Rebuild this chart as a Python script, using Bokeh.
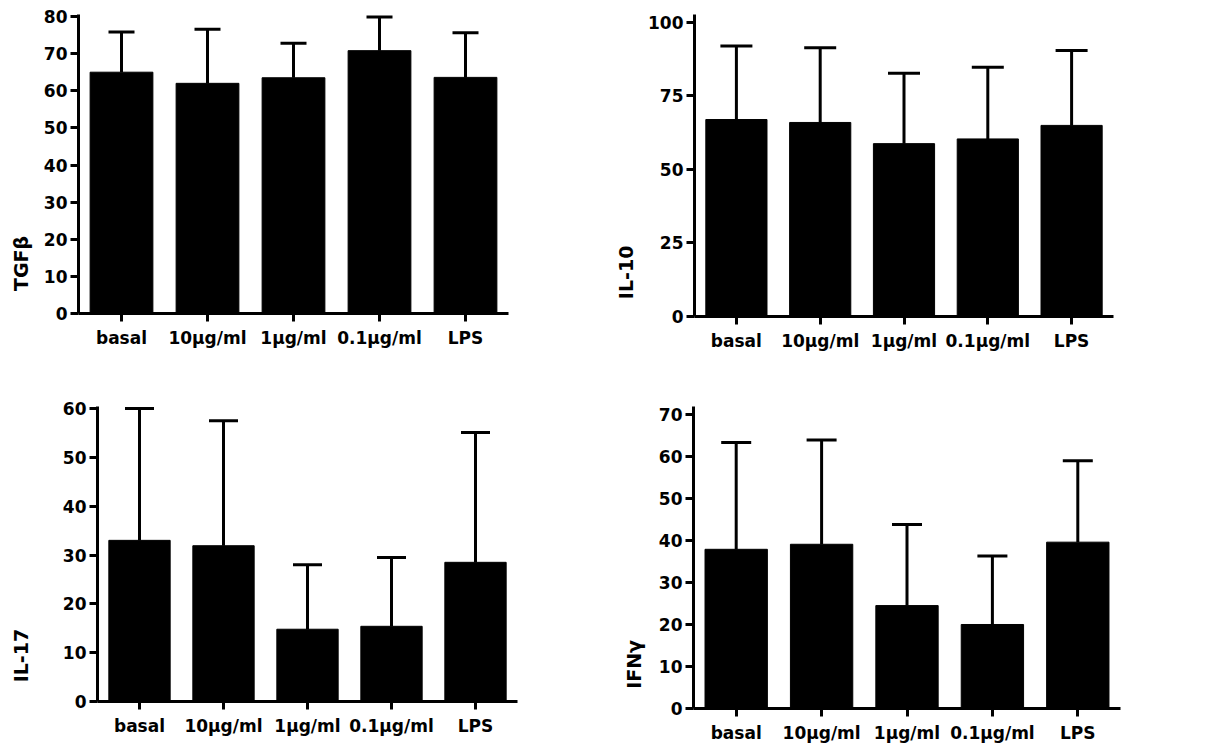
import math
from bokeh.plotting import figure
from bokeh.models import (ColumnDataSource, Range1d, FactorRange, FixedTicker,
                          Whisker, TeeHead)
from bokeh.core.properties import value
from bokeh.layouts import column, row
from bokeh.embed import file_html
from bokeh.resources import INLINE

categories = ["basal", "10µg/ml", "1µg/ml", "0.1µg/ml", "LPS"]

tgfb_mean = [65.0, 62.0, 63.5, 70.8, 63.6]
tgfb_err = [10.8, 14.6, 9.3, 9.1, 12.0]

il10_mean = [67.0, 66.0, 58.8, 60.4, 65.0]
il10_err = [25.0, 25.4, 23.9, 24.4, 25.5]

il17_mean = [33.0, 31.9, 14.8, 15.4, 28.5]
il17_err = [27.0, 25.6, 13.2, 14.1, 26.6]

ifng_mean = [37.9, 39.1, 24.5, 20.0, 39.6]
ifng_err = [25.4, 24.8, 19.3, 16.3, 19.4]

FONT = "DejaVu Sans"


def panel(mean, err, ylabel, yticks, yend, frame, borders, lab, cap):
    fw, fh = frame
    left, right, top, bottom = borders
    lab_w, lab_x, lab_y = lab

    # narrow strip that carries the rotated y-axis title
    s = figure(x_range=Range1d(0, lab_w), y_range=Range1d(0, yend),
               frame_width=lab_w, frame_height=fh, title=None,
               output_backend="svg", toolbar_location=None,
               x_axis_location=None, y_axis_location=None,
               min_border_left=0, min_border_right=0,
               min_border_top=top, min_border_bottom=bottom)
    s.xgrid.visible = False
    s.ygrid.visible = False
    s.outline_line_color = None
    s.text(x=[lab_x], y=[lab_y], text=[ylabel], angle=math.pi / 2,
           text_align="center", text_baseline="middle",
           text_font=value(FONT), text_font_style="bold",
           text_font_size=value("19px"), text_color="#000000")

    upper = [m + e for m, e in zip(mean, err)]
    src = ColumnDataSource(dict(cat=categories, mean=mean, upper=upper))
    p = figure(x_range=FactorRange(*categories), y_range=Range1d(0, yend),
               frame_width=fw, frame_height=fh, title=None,
               output_backend="svg", toolbar_location=None,
               min_border_left=left - lab_w, min_border_right=right,
               min_border_top=top, min_border_bottom=bottom)
    p.vbar(x="cat", top="mean", bottom=0, width=0.73, source=src,
           fill_color="#000000", line_color="#000000")
    wk = Whisker(source=src, base="cat", upper="upper", lower="mean",
                 dimension="height", line_width=3, line_color="#000000",
                 upper_head=TeeHead(size=cap, line_width=3, line_color="#000000"),
                 lower_head=None)
    p.add_layout(wk)
    p.xgrid.visible = False
    p.ygrid.visible = False
    p.outline_line_color = None
    for ax in (p.xaxis[0], p.yaxis[0]):
        ax.axis_line_width = 3
        ax.axis_line_color = "#000000"
        ax.major_tick_line_width = 3
        ax.major_tick_line_color = "#000000"
        ax.major_tick_in = 0
        ax.major_tick_out = 8
        ax.minor_tick_line_color = None
        ax.major_label_text_font = FONT
        ax.major_label_text_font_style = "bold"
        ax.major_label_text_font_size = "17px"
        ax.major_label_text_color = "#000000"
    p.yaxis[0].ticker = FixedTicker(ticks=yticks)
    p.yaxis[0].major_label_standoff = 3
    p.xaxis[0].major_label_standoff = 6
    return s, p


# frame sizes, borders (left, right, top, bottom), label strip (width, x, y)
s1, p1 = panel(tgfb_mean, tgfb_err, "TGFβ", [0, 10, 20, 30, 40, 50, 60, 70, 80], 80.54,
               (430, 299), (78, 96, 14, 67), (38, 20, 13.5), 26)
s2, p2 = panel(il10_mean, il10_err, "IL-10", [0, 25, 50, 75, 100], 102.72,
               (419, 302), (90, 94, 14, 64), (40, 21, 15), 32)
s3, p3 = panel(il17_mean, il17_err, "IL-17", [0, 10, 20, 30, 40, 50, 60], 60.41,
               (420, 295), (97, 87, 26, 50), (38, 20, 9.4), 29)
s4, p4 = panel(ifng_mean, ifng_err, "IFNγ", [0, 10, 20, 30, 40, 50, 60, 70], 71.9,
               (427, 302), (89, 87, 26, 43), (48, 29, 10.5), 30)

layout = column(row(s1, p1, s2, p2), row(s3, p3, s4, p4))
open("out.html", "w").write(file_html(layout, INLINE))
